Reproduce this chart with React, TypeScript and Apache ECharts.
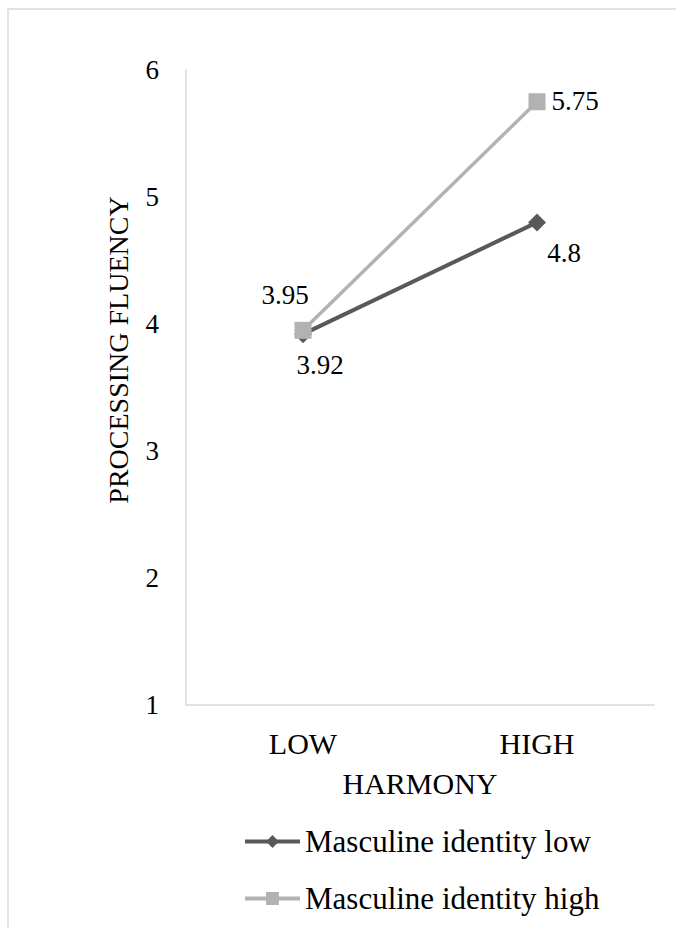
import React, { useEffect, useRef } from "react";
import * as echarts from "echarts";

const categories = ["LOW", "HIGH"];
const seriesNames = ["Masculine identity low", "Masculine identity high"];
const lowIdentity = [3.92, 4.8];
const highIdentity = [3.95, 5.75];
const yTicks = { min: 1, max: 6, interval: 1 };

const FONT = "Liberation Serif";

export default function App() {
  const ref = useRef<HTMLDivElement>(null);
  useEffect(() => {
    if (!ref.current) return;
    const chart = echarts.init(ref.current, undefined, { renderer: "svg" });
    const labelBase = {
      show: true,
      position: "inside",
      align: "center",
      verticalAlign: "middle",
      color: "#000",
      fontFamily: FONT,
      fontSize: 27,
      formatter: (p: any) => "{t|" + p.value + "}",
      rich: { t: { fontFamily: FONT, fontSize: 27, color: "#000" } },
    };
    const lowOffsets = [[17, 31], [27, 31]];
    const highOffsets = [[-18, -35], [38, -1]];
    chart.setOption({
      animation: false,
      backgroundColor: "#fff",
      textStyle: { fontFamily: FONT },
      grid: { left: 186, right: 22, top: 70, bottom: 223, containLabel: false },
      graphic: [
        {
          type: "rect",
          shape: { x: 8, y: 9, width: 720, height: 960 },
          style: { fill: "none", stroke: "#d9d9d9", lineWidth: 1.5 },
          silent: true,
        },
        {
          type: "text",
          x: 118,
          y: 350,
          rotation: Math.PI / 2,
          style: {
            text: "PROCESSING FLUENCY",
            fontFamily: FONT,
            fontSize: 28,
            fill: "#000",
            align: "center",
            verticalAlign: "middle",
          },
        },
      ],
      xAxis: {
        type: "category",
        data: categories,
        boundaryGap: true,
        name: "HARMONY",
        nameLocation: "middle",
        nameGap: 63,
        nameTextStyle: { fontFamily: FONT, fontSize: 30, color: "#000" },
        axisLine: { show: true, lineStyle: { color: "#d9d9d9", width: 1.5 } },
        axisTick: { show: false },
        axisLabel: {
          fontFamily: FONT,
          fontSize: 30,
          color: "#000",
          margin: 23,
          formatter: (v: string) => "{t|" + v + "}",
          rich: { t: { fontFamily: FONT, fontSize: 30, color: "#000" } },
        },
        splitLine: { show: false },
      },
      yAxis: {
        type: "value",
        min: yTicks.min,
        max: yTicks.max,
        interval: yTicks.interval,
        axisLine: { show: true, lineStyle: { color: "#d9d9d9", width: 1.5 } },
        axisTick: { show: false },
        axisLabel: {
          fontFamily: FONT,
          fontSize: 27,
          color: "#000",
          margin: 27,
          formatter: (v: number) => "{t|" + v + "}",
          rich: { t: { fontFamily: FONT, fontSize: 27, color: "#000" } },
        },
        splitLine: { show: false },
      },
      legend: {
        orient: "vertical",
        left: 238,
        top: 821,
        itemWidth: 55,
        itemHeight: 16,
        itemGap: 26,
        lineStyle: { width: 4 },
        textStyle: { fontFamily: FONT, fontSize: 31, color: "#000" },
        data: seriesNames,
      },
      series: [
        {
          name: seriesNames[0],
          type: "line",
          data: lowIdentity.map((v, i) => ({
            value: v,
            label: { ...labelBase, offset: lowOffsets[i] },
          })),
          symbol: "diamond",
          symbolSize: 18,
          itemStyle: { color: "#595959" },
          lineStyle: { color: "#595959", width: 4 },
        },
        {
          name: seriesNames[1],
          type: "line",
          data: highIdentity.map((v, i) => ({
            value: v,
            label: { ...labelBase, offset: highOffsets[i] },
          })),
          symbol: "rect",
          symbolSize: 17,
          itemStyle: { color: "#b2b2b2" },
          lineStyle: { color: "#b2b2b2", width: 3.5 },
        },
      ],
    });
    return () => chart.dispose();
  }, []);
  return (
    <div
      ref={ref}
      style={{ position: "fixed", left: 0, top: 0, width: 676, height: 928 }}
    />
  );
}
